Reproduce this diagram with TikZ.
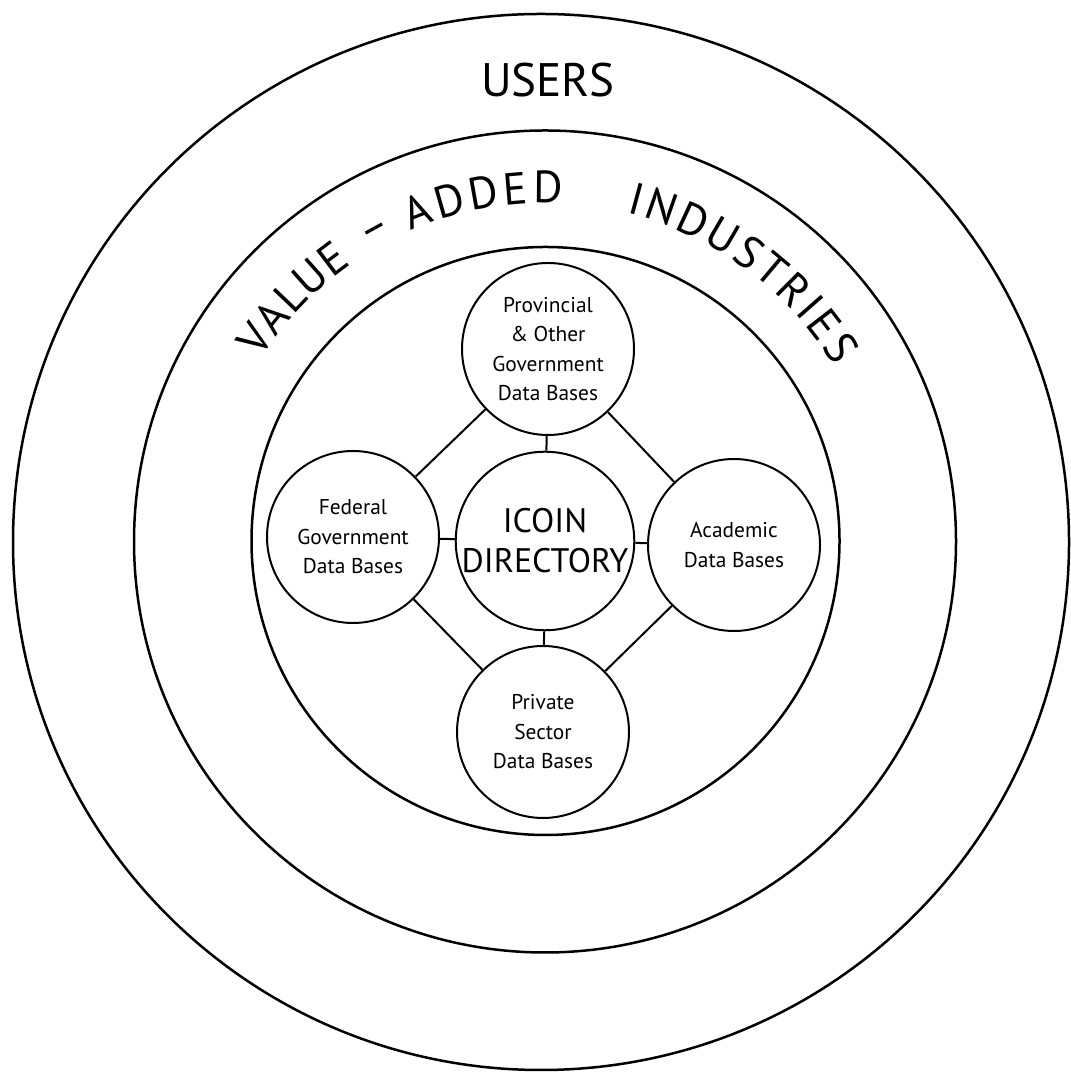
\documentclass[tikz,border=0pt]{standalone}
\usepackage{fontspec}
\setmainfont{PT Sans}
\usetikzlibrary{decorations.text}
\newcommand{\smallfnt}{\fontsize{10.7}{14.75}\selectfont}
\newcommand{\icoinfnt}{\fontsize{17}{20}\selectfont}
\newcommand{\usersfnt}{\fontsize{23.5}{26}\selectfont}
\newcommand{\arcfnt}{\fontsize{22.5}{24}\selectfont}
\begin{document}
\begin{tikzpicture}[x=0.5pt,y=0.5pt,
  bigring/.style={draw=black,line width=1.25pt},
  dbcircle/.style={draw=black,line width=1pt,circle,inner sep=0pt,minimum size=86pt,align=center,font=\smallfnt},
  link/.style={draw=black,line width=1pt},
  arcword/.style={decorate,decoration={text along path,text={|\arcfnt|#1},text align={fit to path}}}]
\useasboundingbox (0,0) rectangle (1070,1074);
\coordinate (C) at (545,534);
% concentric rings
\draw[bigring] (541,532) circle[radius=264pt];
\draw[bigring] (545,532.5) circle[radius=205.5pt];
\draw[bigring] (545.5,533) circle[radius=147pt];
% ring labels
\node[font=\usersfnt] (users) at (548,994) {USERS};
\path[arcword=VALUE] ([shift={(147.5:168.5pt)}]C) arc[start angle=147.5,end angle=125,radius=168.5pt];
\node[font=\arcfnt,rotate=28.7,inner sep=0pt] (dash) at ([shift={(118.7:174.5pt)}]C) {\textendash};
\path[arcword=ADDED] ([shift={(113.5:168.5pt)}]C) arc[start angle=113.5,end angle=87,radius=168.5pt];
\path[arcword=INDUSTRIES] ([shift={(76:168.5pt)}]C) arc[start angle=76,end angle=31,radius=168.5pt];
% data base circles
\node[dbcircle,font=\icoinfnt] (icoin) at (545,533) {ICOIN\\DIRECTORY};
\node[dbcircle] (prov) at (548,725) {Provincial\\\& Other\\Government\\Data Bases};
\node[dbcircle] (fed) at (353,537) {Federal\\Government\\Data Bases};
\node[dbcircle] (acad) at (734,529) {Academic\\Data Bases};
\node[dbcircle] (priv) at (543,342) {Private\\Sector\\Data Bases};
% connectors
\draw[link] (prov) -- (icoin);
\draw[link] (fed) -- (icoin);
\draw[link] (acad) -- (icoin);
\draw[link] (priv) -- (icoin);
\draw[link] (prov) -- (fed);
\draw[link] (prov) -- (acad);
\draw[link] (fed) -- (priv);
\draw[link] (acad) -- (priv);
\end{tikzpicture}
\end{document}
